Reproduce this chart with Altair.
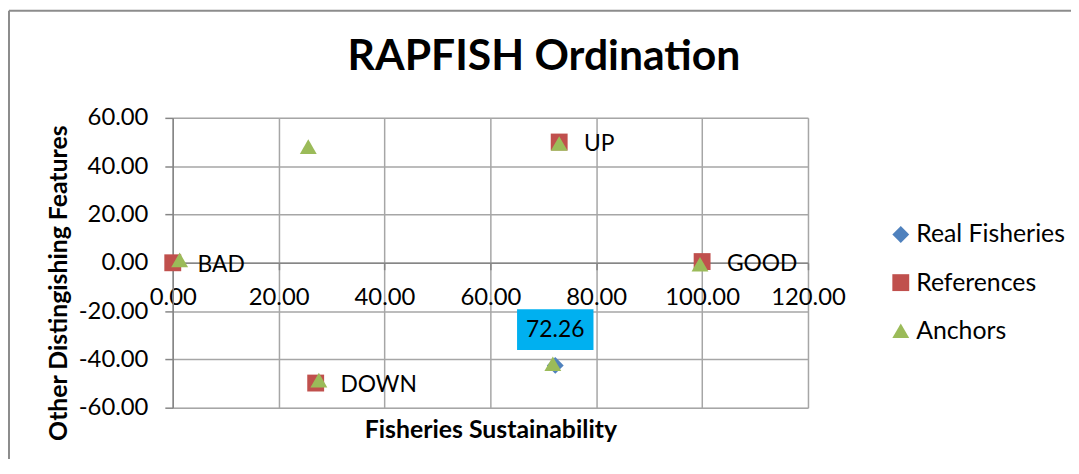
import altair as alt
import pandas as pd

series_names = ["Real Fisheries", "References", "Anchors"]
series_colors = ["#4F81BD", "#C0504D", "#9BBB59"]
series_shapes = ["diamond", "square", "triangle-up"]

real_x = [72.26]
real_y = [-42.5]

ref_x = [0.0, 100.0, 73.0, 27.0]
ref_y = [0.0, 0.5, 50.0, -49.8]
ref_labels = ["BAD", "GOOD", "UP", "DOWN"]

anc_x = [1.3, 99.6, 73.0, 27.6, 25.6, 71.8]
anc_y = [1.2, -0.6, 49.4, -48.6, 48.1, -41.8]

x_ticks = [0, 20, 40, 60, 80, 100, 120]
y_ticks = [-60, -40, -20, 0, 20, 40, 60]

value_label = ["72.26"]

rows = []
for x, y in zip(real_x, real_y):
    rows.append({"x": x, "y": y, "series": series_names[0], "label": ""})
for x, y, l in zip(ref_x, ref_y, ref_labels):
    rows.append({"x": x, "y": y, "series": series_names[1], "label": l})
for x, y in zip(anc_x, anc_y):
    rows.append({"x": x, "y": y, "series": series_names[2], "label": ""})
df = pd.DataFrame(rows)
df["order"] = range(len(df))

ref_df = pd.DataFrame({"x": ref_x, "y": ref_y, "label": ref_labels})
val_df = pd.DataFrame({"x": real_x, "y": real_y, "label": value_label})

FONT = "Lato"
W, H = 640, 292
LABEL_EXPR = "datum.value < 0 ? '-' + format(-datum.value, '.2f') : format(datum.value, '.2f')"

xscale = alt.Scale(domain=[0, 120], nice=False, zero=False)
yscale = alt.Scale(domain=[-60, 60], nice=False, zero=False)

x_enc = alt.X("x:Q", scale=xscale, axis=alt.Axis(
    values=x_ticks, labelExpr=LABEL_EXPR, offset=-H / 2, labelFlush=False,
    domainColor="#868686", domainWidth=1.5, tickColor="#868686", tickSize=7, tickWidth=1.5,
    labelPadding=16, labelFontSize=24, labelFont=FONT, labelColor="black",
    gridColor="#A6A6A6", gridWidth=1.5,
    title="Fisheries Sustainability", titleFont=FONT, titleFontSize=25, titleFontWeight="bold",
    titleColor="black", titleY=H / 2 + 22, titleBaseline="middle", titlePadding=0,
    labelOverlap=False))
y_enc = alt.Y("y:Q", scale=yscale, axis=alt.Axis(
    values=y_ticks, labelExpr=LABEL_EXPR, labelFlush=False,
    domainColor="#868686", domainWidth=1.5, tickColor="#868686", tickSize=8, tickWidth=1.5,
    labelPadding=17, labelFontSize=24, labelFont=FONT, labelColor="black",
    gridColor="#A6A6A6", gridWidth=1.5,
    title="Other Distingishing Features", titleFont=FONT, titleFontSize=25, titleFontWeight="bold",
    titleColor="black", titleY=H / 2 + 20, titleX=-115, titleAlign="center", titleBaseline="middle",
    labelOverlap=False))

points = alt.Chart(df).mark_point(filled=True, opacity=1, size=289, strokeWidth=0).encode(
    x=x_enc, y=y_enc,
    color=alt.Color("series:N", scale=alt.Scale(domain=series_names, range=series_colors),
                    legend=alt.Legend(title=None, orient="none", legendX=721, legendY=105,
                                      labelFont=FONT, labelFontSize=25, labelColor="black",
                                      symbolSize=289, rowPadding=22.5, symbolStrokeWidth=0,
                                      symbolOpacity=1, labelOffset=3)),
    shape=alt.Shape("series:N", scale=alt.Scale(domain=series_names, range=series_shapes)),
    order=alt.Order("order:Q"),
)

ref_text = alt.Chart(ref_df).mark_text(align="left", baseline="middle", dx=25, dy=2,
                                        font=FONT, fontSize=23, color="black").encode(
    x=alt.X("x:Q", scale=xscale), y=alt.Y("y:Q", scale=yscale), text="label:N")

box = alt.Chart(val_df).mark_point(
    shape="M-1,-0.532L1,-0.532L1,0.532L-1,0.532Z", filled=True, opacity=1,
    color="#00B0F0", size=77 * 77, strokeWidth=0, yOffset=-36).encode(
    x=alt.X("x:Q", scale=xscale), y=alt.Y("y:Q", scale=yscale))

val_text = alt.Chart(val_df).mark_text(align="center", baseline="middle", dy=-36,
                                        font=FONT, fontSize=23, color="black").encode(
    x=alt.X("x:Q", scale=xscale), y=alt.Y("y:Q", scale=yscale), text="label:N")

border_top = alt.Chart(val_df).mark_rule(color="#8c8c8c", strokeWidth=2).encode(
    x=alt.value(-165), x2=alt.value(W + 270), y=alt.value(-108))
border_left = alt.Chart(val_df).mark_rule(color="#8c8c8c", strokeWidth=2).encode(
    x=alt.value(-165), y=alt.value(-108), y2=alt.value(H + 60))

chart = alt.layer(points, ref_text, box, val_text, border_top, border_left).properties(
    width=W, height=H,
    title=alt.Title("RAPFISH Ordination", font=FONT, fontSize=43, fontWeight="bold",
                    color="black", anchor="middle", dx=54, dy=90, offset=20),
    autosize=alt.AutoSizeParams(type="none"),
    padding={"left": 166, "top": 109, "right": 265, "bottom": 50},
).configure_view(stroke=None).configure(background="white")

chart.save("out.html", embed_options={"renderer": "svg", "actions": False})
